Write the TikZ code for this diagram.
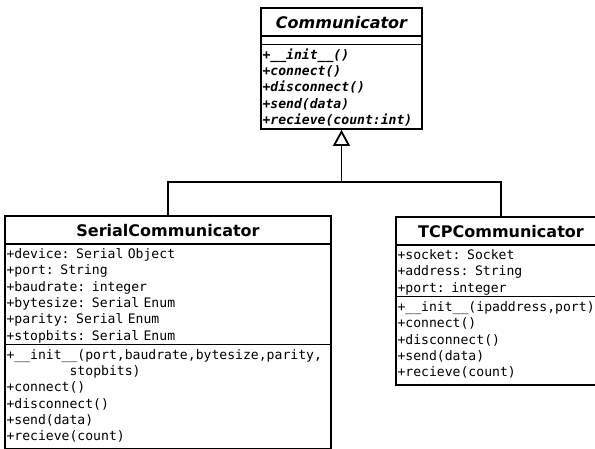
\documentclass[tikz,border=0pt]{standalone}
\usepackage{fontspec}
\setmainfont{DejaVu Sans}
\setsansfont{DejaVu Sans}
\setmonofont{DejaVu Sans Mono}
\usetikzlibrary{shapes.multipart,arrows.meta,positioning}

\newcommand\classhead[1]{\hbox to\hsize{\hss\fontsize{16}{21}\selectfont\sffamily\bfseries\rule[-5.5pt]{0pt}{25pt}#1\hss}}
\newcommand\rowtop{\rule{0pt}{13.5pt}}
\newcommand\rowend[1][3pt]{\rule[-#1]{0pt}{0pt}}

\begin{document}
\begin{tikzpicture}
	[x=1pt,y=1pt,
	class/.style={draw,line width=1.8pt,
		rectangle split,rectangle split parts=3,
		inner xsep=1.5pt,inner ysep=0.5pt,
		align=left,anchor=north,
		font=\fontsize{13.1}{16.3}\selectfont\ttfamily},
	inherit/.style={line width=1.8pt}]
	\useasboundingbox (0,0) rectangle (595,-449);
	\clip (0,0) rectangle (595,-449);
	% abstract base class
	\node[class,text width=158pt] (comm) at (341.5,-7) {\classhead{\itshape Communicator}
		\nodepart{second}\rule{0pt}{6pt}
		\nodepart{third}\bfseries\itshape\rowtop+\_\_init\_\_()\\
		+connect()\\
		+disconnect()\\
		+send(data)\\
		+recieve(count:int)\rowend};
	% subclasses
	\node[class,text width=323pt] (serial) at (168,-215) {\classhead{SerialCommunicator}
		\nodepart{second}\rowtop+device: Serial Object\\
		+port: String\\
		+baudrate: integer\\
		+bytesize: Serial Enum\\
		+parity: Serial Enum\\
		+stopbits: Serial Enum\rowend
		\nodepart{third}\rowtop+\_\_init\_\_(port,baudrate,bytesize,parity,\\
		\phantom{xxxxxxxx}stopbits)\\
		+connect()\\
		+disconnect()\\
		+send(data)\\
		+recieve(count)\rowend[6.5pt]};
	\node[class,text width=207pt] (tcp) at (501,-216) {\classhead{TCPCommunicator}
		\nodepart{second}\rowtop+socket: Socket\\
		+address: String\\
		+port: integer\rowend
		\nodepart{third}\rowtop+\_\_init\_\_(ipaddress,port)\\
		+connect()\\
		+disconnect()\\
		+send(data)\\
		+recieve(count)\rowend[6.5pt]};
	% generalisation
	\coordinate[below=52pt of comm.south] (joint);
	\draw[inherit] (serial.north) |- (joint) -| (tcp.north);
	\draw[inherit,-{Triangle[open,length=16pt,width=17pt]}] (joint) -- (comm.south);
\end{tikzpicture}
\end{document}
